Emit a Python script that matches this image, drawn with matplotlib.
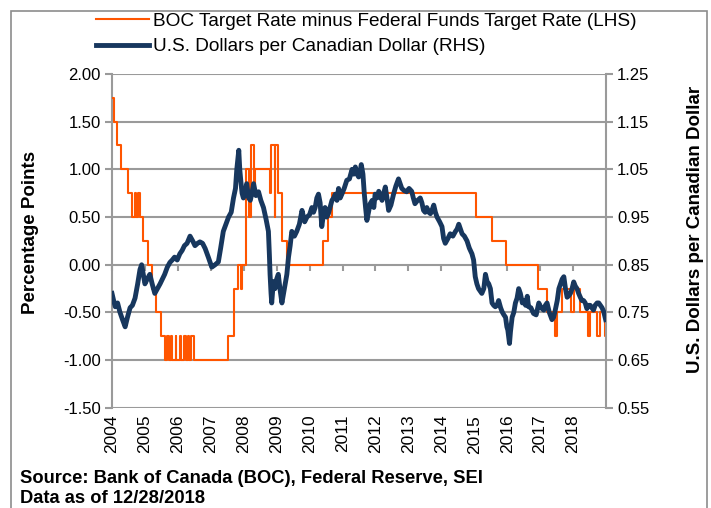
import numpy as np
import pandas as pd
import matplotlib
matplotlib.use("Agg")
import matplotlib.pyplot as plt
from matplotlib.lines import Line2D
from matplotlib.patches import Rectangle

plt.rcParams['font.family'] = ['Liberation Sans', 'DejaVu Sans']

# BOC target minus Fed funds target (upper bound), step changes
spread_dates = ["2004-01-01", "2004-01-20", "2004-03-02", "2004-04-13", "2004-06-30",
                "2004-08-10", "2004-09-08", "2004-09-21", "2004-10-19", "2004-11-10",
                "2004-12-14", "2005-02-02", "2005-03-22", "2005-05-03", "2005-06-30",
                "2005-08-09", "2005-09-07", "2005-09-20", "2005-10-18", "2005-11-01",
                "2005-12-06", "2005-12-13", "2006-01-24", "2006-01-31", "2006-03-07",
                "2006-03-28", "2006-04-25", "2006-05-10", "2006-05-24", "2006-06-29",
                "2007-07-10", "2007-09-18", "2007-10-31", "2007-12-04", "2007-12-11",
                "2008-01-22", "2008-01-30", "2008-03-04", "2008-03-18", "2008-04-22",
                "2008-04-30", "2008-10-21", "2008-10-29", "2008-12-09", "2008-12-16",
                "2009-01-20", "2009-03-03", "2009-04-21", "2010-06-01", "2010-07-20",
                "2010-09-08", "2015-01-21", "2015-07-15", "2015-12-16", "2016-12-14",
                "2017-03-15", "2017-06-14", "2017-07-12", "2017-09-06", "2017-12-13",
                "2018-01-17", "2018-03-21", "2018-06-13", "2018-07-11", "2018-09-26",
                "2018-10-24", "2018-12-19", "2018-12-28"]
spread_vals = [1.75, 1.50, 1.25, 1.00, 0.75,
               0.50, 0.75, 0.50, 0.75, 0.50,
               0.25, 0.00, -0.25, -0.50, -0.75,
               -1.00, -0.75, -1.00, -0.75, -1.00,
               -0.75, -1.00, -0.75, -1.00, -0.75,
               -1.00, -0.75, -1.00, -0.75, -1.00,
               -0.75, -0.25, 0.00, -0.25, 0.00,
               0.50, 1.00, 0.50, 1.25, 0.75,
               1.00, 0.75, 1.25, 0.50, 1.25,
               0.75, 0.25, 0.00, 0.25, 0.50,
               0.75, 0.50, 0.25, 0.00, -0.25,
               -0.50, -0.75, -0.50, -0.25, -0.50,
               -0.25, -0.50, -0.75, -0.50, -0.75,
               -0.50, -0.75, -0.75]

# USD per CAD, decimal years
fx_t = [2004.00, 2004.05, 2004.10, 2004.17, 2004.24, 2004.32, 2004.40, 2004.47, 2004.55, 2004.62,
        2004.70, 2004.78, 2004.85, 2004.90, 2004.95, 2005.00, 2005.07, 2005.15, 2005.22, 2005.30,
        2005.38, 2005.46, 2005.53, 2005.60, 2005.68, 2005.76, 2005.83, 2005.90, 2005.98, 2006.06,
        2006.13, 2006.20, 2006.28, 2006.37, 2006.45, 2006.52, 2006.60, 2006.67, 2006.75, 2006.83,
        2006.93, 2007.03, 2007.13, 2007.23, 2007.30, 2007.38, 2007.46, 2007.54, 2007.62, 2007.69,
        2007.75, 2007.79, 2007.85, 2007.88, 2007.91, 2007.95, 2007.99, 2008.04, 2008.09, 2008.15,
        2008.20, 2008.25, 2008.30, 2008.37, 2008.45, 2008.52, 2008.60, 2008.68, 2008.75, 2008.78,
        2008.80, 2008.83, 2008.85, 2008.90, 2008.95, 2009.00, 2009.05, 2009.10, 2009.16, 2009.21,
        2009.26, 2009.31, 2009.36, 2009.41, 2009.46, 2009.54, 2009.61, 2009.69, 2009.77, 2009.85,
        2009.92, 2010.00, 2010.07, 2010.12, 2010.17, 2010.22, 2010.27, 2010.32, 2010.37, 2010.42,
        2010.47, 2010.52, 2010.57, 2010.62, 2010.68, 2010.73, 2010.78, 2010.83, 2010.88, 2010.93,
        2010.98, 2011.05, 2011.13, 2011.21, 2011.29, 2011.34, 2011.39, 2011.44, 2011.49, 2011.53,
        2011.57, 2011.62, 2011.66, 2011.70, 2011.74, 2011.79, 2011.84, 2011.90, 2011.95, 2011.99,
        2012.05, 2012.10, 2012.15, 2012.20, 2012.25, 2012.30, 2012.35, 2012.40, 2012.47, 2012.55,
        2012.62, 2012.70, 2012.75, 2012.80, 2012.88, 2012.95, 2013.02, 2013.10, 2013.15, 2013.20,
        2013.28, 2013.36, 2013.41, 2013.46, 2013.51, 2013.56, 2013.62, 2013.67, 2013.72, 2013.77,
        2013.82, 2013.87, 2013.95, 2014.02, 2014.07, 2014.12, 2014.20, 2014.27, 2014.35, 2014.43,
        2014.48, 2014.53, 2014.58, 2014.63, 2014.70, 2014.78, 2014.85, 2014.93, 2014.98, 2015.03,
        2015.08, 2015.13, 2015.18, 2015.23, 2015.29, 2015.34, 2015.39, 2015.44, 2015.49, 2015.54,
        2015.59, 2015.64, 2015.69, 2015.74, 2015.80, 2015.85, 2015.90, 2015.95, 2015.99, 2016.02,
        2016.05, 2016.07, 2016.10, 2016.15, 2016.20, 2016.25, 2016.30, 2016.35, 2016.40, 2016.46,
        2016.50, 2016.56, 2016.61, 2016.65, 2016.72, 2016.80, 2016.88, 2016.96, 2017.03, 2017.11,
        2017.16, 2017.21, 2017.28, 2017.36, 2017.41, 2017.46, 2017.52, 2017.57, 2017.62, 2017.67,
        2017.72, 2017.77, 2017.82, 2017.87, 2017.92, 2017.97, 2018.02, 2018.07, 2018.12, 2018.17,
        2018.22, 2018.27, 2018.32, 2018.37, 2018.42, 2018.47, 2018.52, 2018.57, 2018.62, 2018.67,
        2018.73, 2018.78, 2018.83, 2018.88, 2018.93, 2018.99]
fx_v = [0.790, 0.775, 0.762, 0.770, 0.751, 0.735, 0.720, 0.740, 0.760, 0.765,
        0.780, 0.810, 0.840, 0.850, 0.830, 0.810, 0.820, 0.830, 0.810, 0.790,
        0.800, 0.810, 0.820, 0.830, 0.845, 0.855, 0.860, 0.866, 0.860, 0.873,
        0.880, 0.890, 0.895, 0.910, 0.900, 0.890, 0.895, 0.898, 0.895, 0.884,
        0.865, 0.845, 0.850, 0.856, 0.885, 0.920, 0.935, 0.950, 0.960, 0.990,
        1.010, 1.050, 1.090, 1.050, 1.027, 1.000, 0.990, 1.000, 1.020, 0.990,
        0.985, 1.000, 1.020, 0.995, 1.003, 0.985, 0.970, 0.945, 0.920, 0.870,
        0.830, 0.790, 0.770, 0.815, 0.800, 0.820, 0.830, 0.800, 0.770, 0.790,
        0.810, 0.830, 0.866, 0.890, 0.920, 0.910, 0.920, 0.935, 0.964, 0.940,
        0.950, 0.955, 0.970, 0.960, 0.970, 0.990, 0.998, 0.980, 0.930, 0.955,
        0.970, 0.950, 0.957, 0.970, 0.985, 0.990, 0.998, 0.985, 1.010, 0.990,
        0.998, 1.010, 1.027, 1.030, 1.050, 1.040, 1.055, 1.040, 1.034, 1.045,
        1.060, 1.040, 1.000, 0.970, 0.943, 0.960, 0.978, 0.985, 0.970, 0.998,
        0.990, 1.004, 0.995, 0.985, 1.000, 1.013, 0.990, 0.964, 0.975, 0.998,
        1.015, 1.030, 1.020, 1.010, 1.005, 1.003, 1.010, 1.004, 0.990, 0.978,
        0.985, 0.990, 0.980, 0.964, 0.960, 0.970, 0.960, 0.957, 0.965, 0.975,
        0.960, 0.950, 0.940, 0.930, 0.905, 0.895, 0.905, 0.915, 0.910, 0.920,
        0.925, 0.935, 0.925, 0.915, 0.910, 0.900, 0.885, 0.873, 0.860, 0.825,
        0.810, 0.800, 0.795, 0.790, 0.800, 0.830, 0.815, 0.810, 0.800, 0.770,
        0.765, 0.762, 0.765, 0.775, 0.760, 0.751, 0.745, 0.740, 0.720, 0.713,
        0.695, 0.685, 0.710, 0.740, 0.750, 0.770, 0.780, 0.800, 0.790, 0.770,
        0.775, 0.765, 0.784, 0.762, 0.760, 0.748, 0.745, 0.770, 0.760, 0.755,
        0.765, 0.770, 0.750, 0.735, 0.740, 0.755, 0.775, 0.800, 0.810, 0.820,
        0.825, 0.800, 0.782, 0.785, 0.790, 0.800, 0.814, 0.805, 0.800, 0.790,
        0.782, 0.775, 0.775, 0.770, 0.758, 0.765, 0.765, 0.760, 0.755, 0.765,
        0.770, 0.770, 0.765, 0.760, 0.752, 0.735]

years = list(range(2004, 2019))
left_ticks = [-1.5, -1.0, -0.5, 0.0, 0.5, 1.0, 1.5, 2.0]
right_ticks = [0.55, 0.65, 0.75, 0.85, 0.95, 1.05, 1.15, 1.25]

orange = '#FF5500'
navy = '#17375E'
gray = '#9A9A9A'

d = pd.to_datetime(spread_dates)
spread_t = d.year + (d.dayofyear - 1) / np.where(d.is_leap_year, 366, 365)

fig = plt.figure(figsize=(7.11, 5.08), dpi=100)
ax = fig.add_axes([0.1575, 0.197, 0.6948, 0.6575])
ax2 = ax.twinx()

ax.step(spread_t, spread_vals, where='post', color=orange, linewidth=1.5, zorder=3)
ax2.plot(fx_t, fx_v, color=navy, linewidth=3.5, solid_joinstyle='round', zorder=3)

ax.set_xlim(2004, 2019)
ax.set_ylim(-1.5, 2.0)
ax2.set_ylim(0.55, 1.25)
ax.set_yticks(left_ticks)
ax.set_yticklabels([f"{v:.2f}" for v in left_ticks])
ax2.set_yticks(right_ticks)
ax2.set_yticklabels([f"{v:.2f}" for v in right_ticks])

ax.yaxis.grid(True, color=gray, linewidth=1.5)
ax.set_axisbelow(True)
for a in (ax, ax2):
    for s in a.spines.values():
        s.set_visible(False)
ax.spines['left'].set_visible(True)
ax.spines['left'].set_color(gray)
ax.spines['left'].set_linewidth(1.5)
ax2.spines['right'].set_visible(True)
ax2.spines['right'].set_color(gray)
ax2.spines['right'].set_linewidth(1.5)

ax.tick_params(axis='y', length=5, width=1.5, color=gray, labelsize=12, pad=3)
ax2.tick_params(axis='y', length=5, width=1.5, color=gray, labelsize=12, pad=3)

# year labels at the bottom, tick marks on the zero line
ax.set_xticks(years)
ax.set_xticklabels([str(y) for y in years], rotation=90, fontsize=12.5)
ax.tick_params(axis='x', length=0, pad=5)
sec = ax.secondary_xaxis(1.5 / 3.5)
sec.set_xticks(years)
sec.tick_params(axis='x', length=4, width=1.5, color=gray, labelbottom=False, direction='out')
sec.spines['bottom'].set_visible(False)

ax.set_ylabel("Percentage Points", fontsize=13.5, fontweight='bold')
ax.yaxis.set_label_coords(-0.148, 0.525)
ax2.set_ylabel("U.S. Dollars per Canadian Dollar", fontsize=13.5, fontweight='bold',
               rotation=90)
ax2.yaxis.set_label_coords(1.164, 0.535)

handles = [Line2D([], [], color=orange, linewidth=1.5),
           Line2D([], [], color=navy, linewidth=3.5)]
labels = ["BOC Target Rate minus Federal Funds Target Rate (LHS)",
          "U.S. Dollars per Canadian Dollar (RHS)"]
fig.legend(handles, labels, loc='upper left', bbox_to_anchor=(0.124, 0.99),
           frameon=False, fontsize=13.7, handlelength=2.8, handletextpad=0.2,
           labelspacing=0.42, borderaxespad=0)

fig.text(0.028, 0.059, "Source: Bank of Canada (BOC), Federal Reserve, SEI",
         fontsize=13.2, fontweight='bold', va='center')
fig.text(0.028, 0.019, "Data as of 12/28/2018", fontsize=13.2, fontweight='bold',
         va='center')

fig.patches.append(Rectangle((11 / 711, -0.05), (707 - 11) / 711, 1.05 - 11 / 508,
                             transform=fig.transFigure, fill=False,
                             edgecolor='#8c8c8c', linewidth=1.2))

fig.savefig("out.png", dpi=100)
